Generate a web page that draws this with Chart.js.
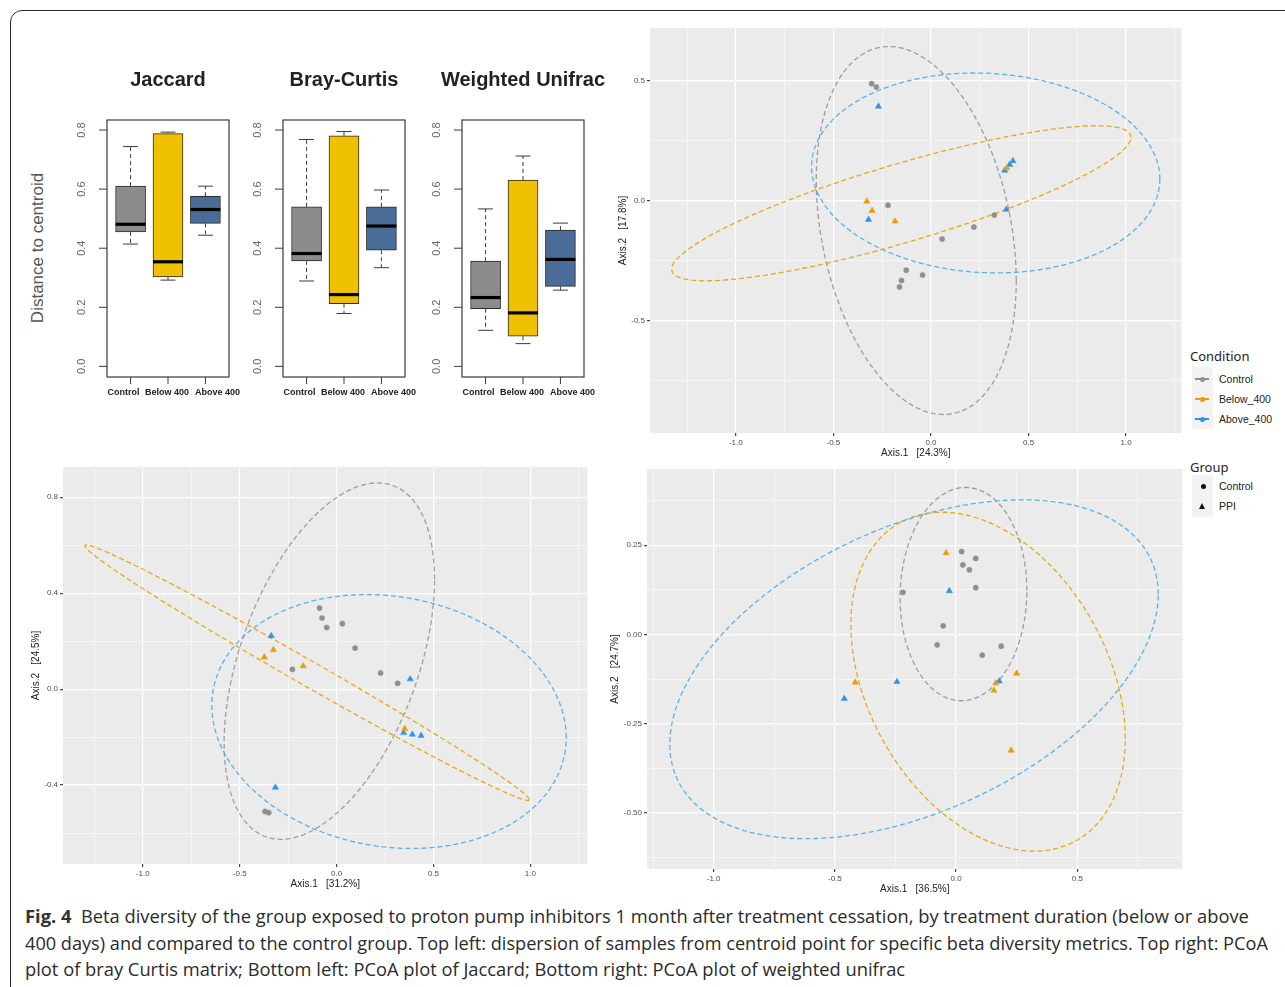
<!DOCTYPE html>
<html>
<head>
<meta charset="utf-8">
<title>Fig. 4 Beta diversity</title>
<script src="https://cdn.jsdelivr.net/npm/chart.js@4.4.1/dist/chart.umd.min.js"></script>
<style>
  html, body { margin: 0; padding: 0; background: #fff; }
  body { width: 1285px; height: 987px; position: relative; overflow: hidden; font-family: 'Liberation Sans', Arial, sans-serif; }
  canvas { position: absolute; }
  .frame { position: absolute; left: 10px; top: 10px; width: 1300px; height: 1000px; border: 1.5px solid #2a2a2a; border-radius: 12px; }
  .ylab { position: absolute; left: 38px; top: 248px; transform: translate(-50%, -50%) rotate(-90deg); font-size: 17px; color: #555; white-space: nowrap; }
  .legend-title { position: absolute; left: 1190px; font-family: 'Noto Sans', sans-serif; font-size: 13px; line-height: 18px; color: #222; }
  .key-bg { position: absolute; left: 1192px; width: 21px; background: #f2f2f2; }
  .key-line { position: absolute; left: 1195px; width: 14px; height: 1.3px; }
  .key-dot { position: absolute; left: 1200px; width: 5px; height: 5px; border-radius: 50%; }
  .key-tri { position: absolute; left: 1199px; width: 0; height: 0; border-left: 3.5px solid transparent; border-right: 3.5px solid transparent; border-bottom: 6px solid #111; }
  .legend-item { position: absolute; left: 1219px; font-size: 10.5px; line-height: 12px; color: #222; white-space: nowrap; }
  .caption { position: absolute; left: 25px; white-space: nowrap; font-family: 'Open Sans', 'Noto Sans', sans-serif; font-size: 18px; line-height: 22px; color: #2b2b2b; transform-origin: 0 50%; }
  .caption b { color: #333; }
</style>
</head>
<body>
<div class="frame"></div>

<canvas id="boxJaccard" width="202" height="347" style="left:67px;top:60px"></canvas>
<canvas id="boxBray" width="202" height="347" style="left:243px;top:60px"></canvas>
<canvas id="boxUnifrac" width="202" height="347" style="left:422px;top:60px"></canvas>
<div class="ylab">Distance to centroid</div>

<canvas id="pcoaBray" width="569" height="439" style="left:617px;top:20px"></canvas>
<canvas id="pcoaJaccard" width="562" height="432" style="left:30px;top:458px"></canvas>
<canvas id="pcoaUnifrac" width="578" height="434" style="left:609px;top:461px"></canvas>

<div id="legend"></div>

<div class="caption" id="cap1" style="top:905px"><b>Fig. 4</b>&nbsp; Beta diversity of the group exposed to proton pump inhibitors 1 month after treatment cessation, by treatment duration (below or above</div>
<div class="caption" id="cap2" style="top:932px">400 days) and compared to the control group. Top left: dispersion of samples from centroid point for specific beta diversity metrics. Top right: PCoA</div>
<div class="caption" id="cap3" style="top:958px">plot of bray Curtis matrix; Bottom left: PCoA plot of Jaccard; Bottom right: PCoA plot of weighted unifrac</div>

<script>
// Box plots: distance to centroid
const boxCategories = ['Control', 'Below 400', 'Above 400'];
const boxColors = ['#8c8c8c', '#efc100', '#4a6c98'];
const boxTickValues = [0, 0.2, 0.4, 0.6, 0.8];
// [lower whisker, Q1, median, Q3, upper whisker]
const jaccardStats = [
  [0.414, 0.455, 0.481, 0.610, 0.744],
  [0.292, 0.303, 0.354, 0.788, 0.793],
  [0.444, 0.484, 0.531, 0.576, 0.610]
];
const brayStats = [
  [0.289, 0.357, 0.382, 0.540, 0.768],
  [0.179, 0.212, 0.243, 0.780, 0.795],
  [0.334, 0.393, 0.475, 0.540, 0.597]
];
const unifracStats = [
  [0.122, 0.195, 0.233, 0.356, 0.533],
  [0.077, 0.102, 0.181, 0.631, 0.712],
  [0.258, 0.271, 0.362, 0.461, 0.485]
];

// PCoA plots
const conditions = ['Control', 'Below_400', 'Above_400'];
const groups = ['Control', 'PPI'];
const conditionColors = ['#8f8f8f', '#e69f00', '#2f93ec'];
const ellipseColors = ['#9d9d9d', '#e6a817', '#58b1ec'];

// Bray-Curtis (top right)
const brayControl = [[-0.304, 0.488], [-0.28, 0.474], [-0.22, -0.019], [0.325, -0.06], [0.22, -0.11], [0.057, -0.16], [-0.127, -0.29], [-0.151, -0.333], [-0.161, -0.36], [-0.043, -0.31]];
const brayBelow = [[-0.329, -0.003], [-0.302, -0.042], [-0.184, -0.086], [0.389, 0.136]];
const brayAbove = [[-0.269, 0.393], [-0.32, -0.079], [0.378, 0.126], [0.403, 0.15], [0.42, 0.166], [0.386, -0.037]];
// ellipse: [centre x, centre y, l11, l21, l22] (cholesky factor of the spread)
const brayEllipses = [[-0.0755, -0.1245, 0.5125, -0.21, 0.738], [-0.152, -0.011, 1.177, 0.275, 0.17], [0.2805, 0.1155, 0.8925, -0.026, 0.416]];
const brayXTicks = [-1.0, -0.5, 0.0, 0.5, 1.0];
const brayYTicks = [-0.5, 0.0, 0.5];

// Jaccard (bottom left)
const jaccControl = [[-0.088, 0.338], [-0.075, 0.2965], [-0.051, 0.257], [0.03, 0.273], [0.0955, 0.171], [-0.228, 0.0825], [0.227, 0.067], [0.315, 0.024], [-0.369, -0.51], [-0.35, -0.515]];
const jaccBelow = [[-0.326, 0.164], [-0.373, 0.133], [-0.172, 0.0965], [0.352, -0.165]];
const jaccAbove = [[-0.337, 0.222], [0.38, 0.042], [0.346, -0.182], [0.391, -0.189], [0.436, -0.194], [-0.316, -0.41]];
const jaccEllipses = [[-0.0375, 0.1167, 0.543, 0.341, 0.66], [-0.1526, 0.0685, 1.147, -0.529, 0.06], [0.2705, -0.135, 0.9145, -0.067, 0.525]];
const jaccXTicks = [-1.0, -0.5, 0.0, 0.5, 1.0];
const jaccYTicks = [-0.4, 0.0, 0.4, 0.8];

// Weighted Unifrac (bottom right)
const wuControl = [[0.023, 0.232], [0.081, 0.213], [0.028, 0.195], [0.055, 0.181], [0.081, 0.131], [-0.219, 0.118], [-0.053, 0.024], [-0.078, -0.029], [0.108, -0.058], [0.186, -0.033]];
const wuBelow = [[-0.041, 0.228], [-0.416, -0.1345], [0.164, -0.136], [0.156, -0.157], [0.25, -0.109], [0.227, -0.325]];
const wuAbove = [[-0.028, 0.122], [-0.244, -0.1325], [-0.461, -0.18], [0.178, -0.131]];
const wuEllipses = [[0.0305, 0.113, 0.2615, 0.01, 0.2986], [0.132, -0.1323, 0.566, -0.16, 0.447], [-0.1735, -0.0975, 1.0075, 0.21, 0.4255]];
const wuXTicks = [-1.0, -0.5, 0.0, 0.5];
const wuYTicks = [-0.5, -0.25, 0.0, 0.25];

Chart.defaults.font.family = "'Liberation Sans', Arial, sans-serif";
Chart.defaults.animation = false;

// whiskers, medians, frame and R style axes for the box plots
const boxPlugin = {
  id: 'boxDetails',
  afterDatasetsDraw(chart) {
    const stats = chart.$stats;
    const {ctx, chartArea: a, scales: {x, y}} = chart;
    const seg = (x1, y1, x2, y2) => { ctx.beginPath(); ctx.moveTo(x1, y1); ctx.lineTo(x2, y2); ctx.stroke(); };
    const half = (x.getPixelForValue(2) - x.getPixelForValue(1)) * 0.4;
    ctx.save();
    ctx.strokeStyle = '#3a3a3a';
    stats.forEach((s, i) => {
      const cx = x.getPixelForValue(i + 1);
      ctx.lineWidth = 1;
      ctx.setLineDash([4, 3]);
      seg(cx, y.getPixelForValue(s[3]), cx, y.getPixelForValue(s[4]));
      seg(cx, y.getPixelForValue(s[1]), cx, y.getPixelForValue(s[0]));
      ctx.setLineDash([]);
      seg(cx - half / 2, y.getPixelForValue(s[4]), cx + half / 2, y.getPixelForValue(s[4]));
      seg(cx - half / 2, y.getPixelForValue(s[0]), cx + half / 2, y.getPixelForValue(s[0]));
      ctx.strokeStyle = '#000';
      ctx.lineWidth = 3.2;
      seg(cx - half, y.getPixelForValue(s[2]), cx + half, y.getPixelForValue(s[2]));
      ctx.strokeStyle = '#3a3a3a';
    });
    ctx.lineWidth = 1.2;
    ctx.strokeRect(a.left, a.top, a.width, a.height);

    ctx.lineWidth = 1;
    ctx.fillStyle = '#666';
    ctx.font = "11px 'Liberation Sans', Arial";
    ctx.textAlign = 'center';
    ctx.textBaseline = 'middle';
    boxTickValues.forEach(v => {
      const py = y.getPixelForValue(v);
      seg(a.left - 8, py, a.left, py);
      ctx.save();
      ctx.translate(a.left - 25, py);
      ctx.rotate(-Math.PI / 2);
      ctx.fillText(v.toFixed(1), 0, 0);
      ctx.restore();
    });
    const labelShift = [-7, -1, 12];
    ctx.fillStyle = '#222';
    ctx.font = "bold 9px 'Liberation Sans', Arial";
    boxCategories.forEach((c, i) => {
      const px = x.getPixelForValue(i + 1);
      seg(px, a.bottom, px, a.bottom + 7);
      ctx.fillText(c, px + labelShift[i], a.bottom + 16);
    });
    ctx.restore();
  }
};

// empty side axes keep a gutter on both sides so the title can be wider than the box frame
const gutter = position => ({
  position, display: true,
  grid: {display: false}, border: {display: false}, ticks: {display: false},
  afterFit: s => { s.width = 40; }
});

function boxChart(id, title, stats) {
  return new Chart(document.getElementById(id), {
    type: 'bar',
    data: {
      datasets: [{
        data: stats.map((s, i) => ({x: i + 1, y: [s[1], s[3]]})),
        backgroundColor: boxColors,
        borderColor: '#2a2a2a',
        borderWidth: 1,
        borderSkipped: false,
        barThickness: 30
      }]
    },
    options: {
      responsive: false,
      events: [],
      layout: {padding: {left: 0, right: 0, top: 0, bottom: 30}},
      scales: {
        x: {type: 'linear', min: 0.37, max: 3.63, offset: false, display: false},
        y: {type: 'linear', min: -0.036, max: 0.834, ...gutter('left')},
        yRight: {type: 'linear', min: 0, max: 1, ...gutter('right')}
      },
      plugins: {
        legend: {display: false},
        tooltip: {enabled: false},
        title: {display: true, text: title, color: '#222', font: {size: 20, weight: 'bold'}, padding: {top: 8, bottom: 28}}
      }
    },
    plugins: [{id: 'statsHolder', beforeInit(c) { c.$stats = stats; }}, boxPlugin]
  });
}

boxChart('boxJaccard', 'Jaccard', jaccardStats);
boxChart('boxBray', 'Bray-Curtis', brayStats);
boxChart('boxUnifrac', 'Weighted Unifrac', unifracStats);

// grey ggplot panel and the dashed confidence ellipses
function panelPlugin(ellipses) {
  return {
    id: 'ggPanel',
    beforeDraw(chart) {
      const {ctx, chartArea: a} = chart;
      ctx.save();
      ctx.fillStyle = '#ebebeb';
      ctx.fillRect(a.left, a.top, a.width, a.height);
      ctx.restore();
    },
    beforeDatasetsDraw(chart) {
      const {ctx, chartArea: a, scales: {x, y}} = chart;
      ctx.save();
      ctx.beginPath();
      ctx.rect(a.left, a.top, a.width, a.height);
      ctx.clip();
      ctx.lineWidth = 1.3;
      ctx.setLineDash([5, 3]);
      ellipses.forEach((e, k) => {
        const [cx, cy, l11, l21, l22] = e;
        ctx.strokeStyle = ellipseColors[k];
        ctx.beginPath();
        for (let i = 0; i <= 180; i++) {
          const t = i / 180 * 2 * Math.PI;
          const px = x.getPixelForValue(cx + l11 * Math.cos(t));
          const py = y.getPixelForValue(cy + l21 * Math.cos(t) + l22 * Math.sin(t));
          if (i === 0) ctx.moveTo(px, py); else ctx.lineTo(px, py);
        }
        ctx.stroke();
      });
      ctx.restore();
    }
  };
}

function ggAxis(range, majors, step, decimals, title, fit) {
  const major = v => majors.find(m => Math.abs(m - v) < 1e-6);
  return {
    type: 'linear',
    min: range[0],
    max: range[1],
    border: {display: false},
    grid: {
      color: '#ffffff',
      lineWidth: c => major(c.tick.value) !== undefined ? 1.2 : 0.55,
      tickColor: c => major(c.tick.value) !== undefined ? '#444' : 'rgba(0,0,0,0)',
      tickLength: 3
    },
    ticks: {
      stepSize: step,
      includeBounds: false,
      autoSkip: false,
      maxRotation: 0,
      padding: 2,
      color: '#4d4d4d',
      font: {size: 8},
      callback: v => { const m = major(v); return m === undefined ? '' : m.toFixed(decimals); }
    },
    title: {display: true, text: title, color: '#222', font: {size: 10}, padding: 0},
    afterFit: fit
  };
}

function pcoaChart(id, sets, ellipses, cfg) {
  const styles = ['circle', 'triangle', 'triangle'];
  return new Chart(document.getElementById(id), {
    type: 'scatter',
    data: {
      datasets: sets.map((pts, k) => ({
        label: conditions[k],
        data: pts.map(([x, y]) => ({x, y})),
        pointStyle: styles[k],
        pointRadius: k === 0 ? 2.6 : 3.6,
        backgroundColor: conditionColors[k],
        borderColor: conditionColors[k],
        borderWidth: 0.5
      }))
    },
    options: {
      responsive: false,
      events: [],
      layout: {padding: {top: cfg.top, right: 0, left: 0, bottom: 0}},
      scales: {
        x: ggAxis(cfg.xRange, cfg.xTicks, cfg.xStep, cfg.xDec, cfg.xTitle, s => { s.height = 26; }),
        y: ggAxis(cfg.yRange, cfg.yTicks, cfg.yStep, cfg.yDec, cfg.yTitle, s => { s.width = cfg.yWidth; })
      },
      plugins: {legend: {display: false}, tooltip: {enabled: false}}
    },
    plugins: [panelPlugin(ellipses)]
  });
}

pcoaChart('pcoaBray', [brayControl, brayBelow, brayAbove], brayEllipses, {
  xRange: [-1.44, 1.284], yRange: [-0.969, 0.72], xTicks: brayXTicks, yTicks: brayYTicks,
  xStep: 0.25, yStep: 0.25, xDec: 1, yDec: 1,
  xTitle: 'Axis.1   [24.3%]', yTitle: 'Axis.2   [17.8%]', top: 8, yWidth: 33
});
pcoaChart('pcoaJaccard', [jaccControl, jaccBelow, jaccAbove], jaccEllipses, {
  xRange: [-1.412, 1.295], yRange: [-0.729, 0.926], xTicks: jaccXTicks, yTicks: jaccYTicks,
  xStep: 0.25, yStep: 0.2, xDec: 1, yDec: 1,
  xTitle: 'Axis.1   [31.2%]', yTitle: 'Axis.2   [24.5%]', top: 9, yWidth: 33
});
pcoaChart('pcoaUnifrac', [wuControl, wuBelow, wuAbove], wuEllipses, {
  xRange: [-1.275, 0.934], yRange: [-0.657, 0.4634], xTicks: wuXTicks, yTicks: wuYTicks,
  xStep: 0.25, yStep: 0.125, xDec: 1, yDec: 2,
  xTitle: 'Axis.1   [36.5%]', yTitle: 'Axis.2   [24.7%]', top: 8, yWidth: 38
});

// shared legends
const legend = document.getElementById('legend');
const add = html => legend.insertAdjacentHTML('beforeend', html);
add('<div class="legend-title" style="top:347px">Condition</div>');
add('<div class="key-bg" style="top:367px;height:62px"></div>');
conditions.forEach((name, i) => {
  const y = 379 + i * 20;
  add(`<div class="key-line" style="top:${y - 0.6}px;background:${conditionColors[i]}"></div>`);
  add(`<div class="key-dot" style="top:${y - 2.5}px;background:${conditionColors[i]}"></div>`);
  add(`<div class="legend-item" style="top:${y - 6}px">${name}</div>`);
});
add('<div class="legend-title" style="top:458px">Group</div>');
add('<div class="key-bg" style="top:475px;height:42px"></div>');
groups.forEach((name, i) => {
  const y = 486 + i * 20;
  if (i === 0) add(`<div class="key-dot" style="left:1200.5px;top:${y - 2.5}px;background:#111"></div>`);
  else add(`<div class="key-tri" style="top:${y - 3.5}px"></div>`);
  add(`<div class="legend-item" style="top:${y - 6}px">${name}</div>`);
});

// fit caption lines to the widths of the figure text
[['cap1', 1224], ['cap2', 1243], ['cap3', 880]].forEach(([id, w]) => {
  const el = document.getElementById(id);
  el.style.transform = `scaleX(${w / el.scrollWidth})`;
});
</script>
</body>
</html>
